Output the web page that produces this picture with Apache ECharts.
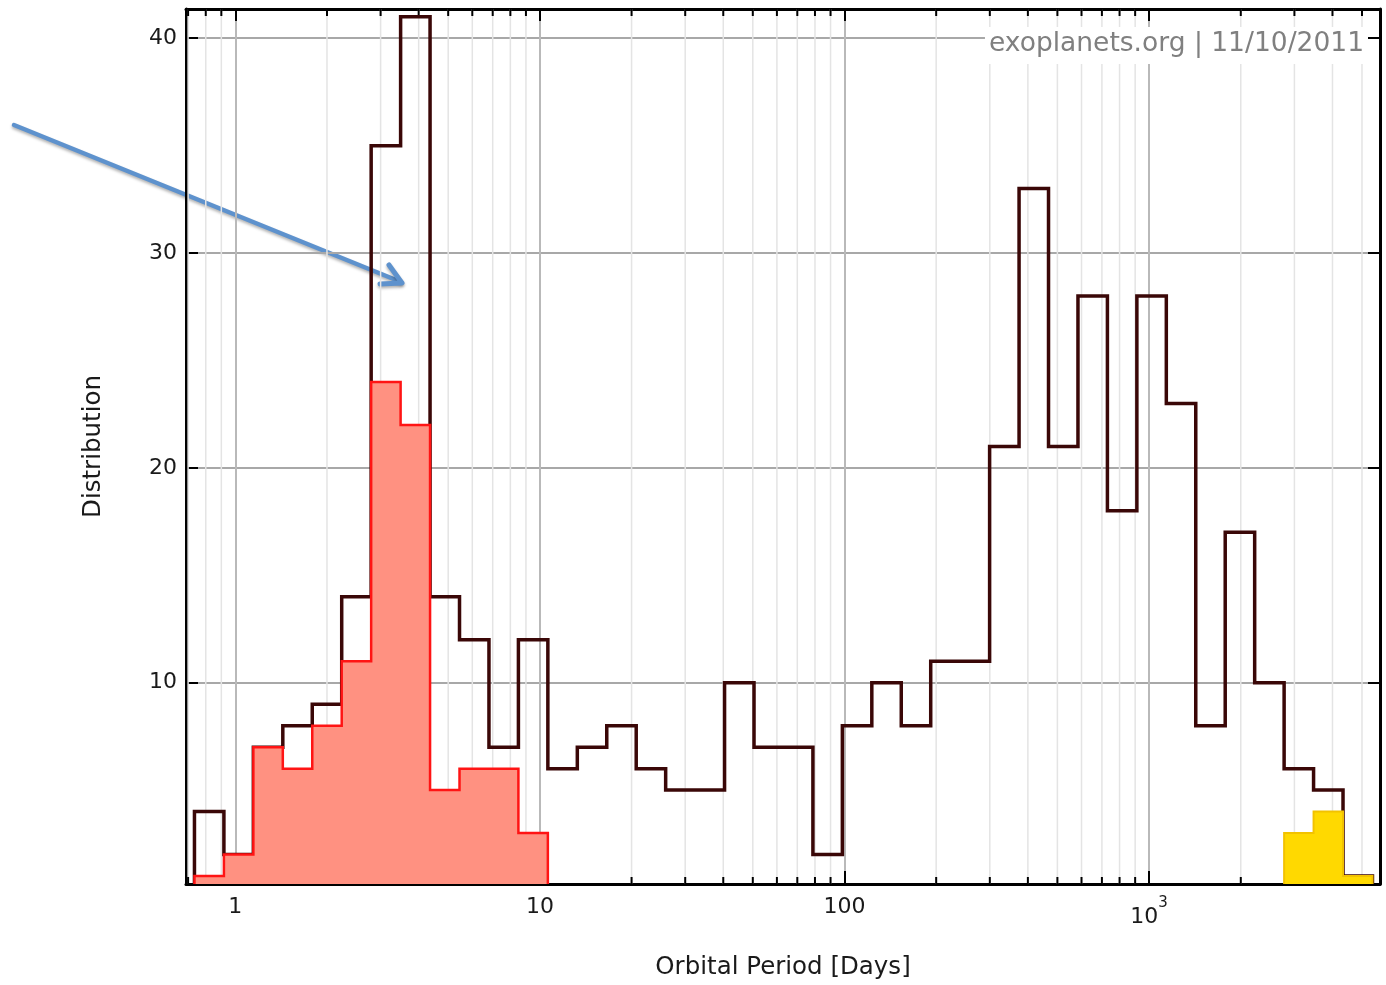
<!DOCTYPE html>
<html><head><meta charset="utf-8">
<script src="https://cdn.jsdelivr.net/npm/echarts@6/dist/echarts.min.js"></script>
<style>html,body{margin:0;padding:0;background:#fff}#chart{width:1386px;height:985px}</style>
</head><body><div id="chart"></div>
<script>
// ---- data ----
const binEdgeFirst = 0.7345;   // days, left edge of first bin
const binEdgeLast = 5412;      // days, right edge of last bin
const binCount = 40;
const allPlanetCounts = [4,2,7,8,9,14,35,41,14,12,7,12,6,7,8,6,5,5,10,7,7,2,8,10,8,11,11,21,33,21,28,18,28,23,8,17,10,6,5,1];
const redSubsetCounts = [1,2,7,6,8,11,24,22,5,6,6,3];
const redSubsetFirstBin = 0;
const yellowSubsetCounts = [3,4,1];
const yellowSubsetFirstBin = 37;
const xMajorTicks = [1,10,100,1000];
const xTickLabels = ['1','10','100','{b|10}{s|3}'];
const xMinorTicks = [0.7,0.8,0.9,2,3,4,5,6,7,8,9,20,30,40,50,60,70,80,90,200,300,400,500,600,700,800,900,2000,3000,4000,5000];
const yTicks = [10,20,30,40];
const xRange = [0.689, 5729];
const yRange = [0.63, 41.36];
const watermark = 'exoplanets.org | 11/10/2011';
const xTitle = 'Orbital Period [Days]';
const yTitle = 'Distribution';

const FONT = 'DejaVu Sans';
const lf = Math.log10(binEdgeFirst), ll = Math.log10(binEdgeLast);
const edges = Array.from({length: binCount + 1}, (_, i) => Math.pow(10, lf + (ll - lf) * i / binCount));

function stepPoints(counts, firstBin) {
  const pts = [[edges[firstBin], yRange[0]]];
  counts.forEach((c, i) => pts.push([edges[firstBin + i], c]));
  const lastEdge = edges[firstBin + counts.length];
  pts.push([lastEdge, counts[counts.length - 1]]);
  pts.push([lastEdge, yRange[0]]);
  return pts;
}

function xLabel(v) {
  const k = xMajorTicks.findIndex(t => Math.abs(Math.log10(v) - Math.log10(t)) < 1e-6);
  return k < 0 ? '' : xTickLabels[k];
}
function yLabel(v) {
  const k = yTicks.findIndex(t => Math.abs(v - t) < 1e-6);
  return k < 0 ? '' : String(yTicks[k]);
}

const chart = echarts.init(document.getElementById('chart'), null, {renderer: 'canvas'});
const labelStyle = {fontFamily: FONT, fontSize: 22, color: '#1a1a1a'};

const option = {
  backgroundColor: '#fff',
  animation: false,
  textStyle: {fontFamily: FONT},
  title: {
    text: watermark, right: 18, top: 27,
    backgroundColor: '#fff', padding: [4, 4, 6, 4],
    textStyle: {fontFamily: FONT, fontSize: 26.5, fontWeight: 'normal', color: '#808080'}
  },
  grid: {left: 186, right: 6, top: 9, bottom: 97, containLabel: false},
  xAxis: [
    {
      type: 'log', logBase: 10, min: xRange[0], max: xRange[1], position: 'bottom',
      axisLine: {show: true, lineStyle: {color: '#000', width: 3}},
      axisTick: {show: true, inside: true, length: 13, lineStyle: {color: '#000', width: 2}},
      axisLabel: {show: true, margin: 12, showMinLabel: false, showMaxLabel: false, formatter: xLabel,
        ...labelStyle,
        rich: {
          b: {fontFamily: FONT, fontSize: 22, color: '#1a1a1a', lineHeight: 32, verticalAlign: 'bottom'},
          s: {fontFamily: FONT, fontSize: 15, color: '#1a1a1a', lineHeight: 32, verticalAlign: 'top'}
        }},
      splitLine: {show: false},
      name: xTitle, nameLocation: 'middle', nameGap: 71,
      nameTextStyle: {fontFamily: FONT, fontSize: 24.5, color: '#1a1a1a'}
    },
    {
      type: 'log', logBase: 10, min: xRange[0], max: xRange[1], position: 'top',
      axisLine: {show: true, lineStyle: {color: '#000', width: 3}},
      axisTick: {show: true, inside: true, length: 12, lineStyle: {color: '#000', width: 2}},
      axisLabel: {show: false},
      splitLine: {show: true, lineStyle: {color: '#b9b9b9', width: 2}}
    }
  ],
  yAxis: [
    {
      type: 'value', min: yRange[0], max: yRange[1], position: 'left',
      axisLine: {show: true, lineStyle: {color: '#000', width: 3}},
      axisTick: {show: true, inside: true, length: 12, lineStyle: {color: '#000', width: 2}},
      axisLabel: {show: true, margin: 9, showMinLabel: false, showMaxLabel: false, formatter: yLabel, ...labelStyle},
      splitLine: {show: false},
      name: yTitle, nameLocation: 'middle', nameGap: 80, nameRotate: 90,
      nameTextStyle: {fontFamily: FONT, fontSize: 24.5, color: '#1a1a1a'}
    },
    {
      type: 'value', min: yRange[0], max: yRange[1], position: 'right',
      axisLine: {show: true, lineStyle: {color: '#000', width: 3}},
      axisTick: {show: true, inside: true, length: 12, lineStyle: {color: '#000', width: 2}},
      axisLabel: {show: false},
      splitLine: {show: true, lineStyle: {color: '#a8a8a8', width: 2}}
    }
  ],
  series: [
    {
      type: 'custom', name: 'minor', xAxisIndex: 0, yAxisIndex: 0, z: 1, silent: true,
      data: xMinorTicks.map(v => [v]),
      encode: {x: 0},
      renderItem: function (params, api) {
        const v = api.value(0);
        const b = api.coord([v, yRange[0]]);
        const t = api.coord([v, yRange[1]]);
        return {
          type: 'group',
          children: [
            {type: 'line', shape: {x1: b[0], y1: b[1], x2: t[0], y2: t[1]}, style: {stroke: '#e4e4e4', lineWidth: 1.5}},
            {type: 'line', shape: {x1: b[0], y1: b[1], x2: b[0], y2: b[1] - 7}, style: {stroke: '#000', lineWidth: 2}},
            {type: 'line', shape: {x1: t[0], y1: t[1], x2: t[0], y2: t[1] + 7}, style: {stroke: '#000', lineWidth: 2}}
          ]
        };
      }
    },
    {
      type: 'line', name: 'All planets', step: 'end', z: 2, showSymbol: false, symbol: 'none',
      data: stepPoints(allPlanetCounts, 0),
      lineStyle: {color: '#3a0707', width: 3.5, join: 'miter'}
    },
    {
      type: 'line', name: 'Red subset', step: 'end', z: 3, showSymbol: false, symbol: 'none',
      data: stepPoints(redSubsetCounts, redSubsetFirstBin),
      lineStyle: {color: '#ff1414', width: 2.5, join: 'miter'},
      areaStyle: {color: '#ff9181', opacity: 1}
    },
    {
      type: 'line', name: 'Yellow subset', step: 'end', z: 3, showSymbol: false, symbol: 'none',
      data: stepPoints(yellowSubsetCounts, yellowSubsetFirstBin),
      lineStyle: {color: '#f2c200', width: 2, join: 'miter'},
      areaStyle: {color: '#ffd900', opacity: 1}
    }
  ],
  graphic: [
    {
      type: 'group', z: 100,
      children: [
        {type: 'line', shape: {x1: 14, y1: 125, x2: 401, y2: 282},
          style: {stroke: '#5e92cd', lineWidth: 4.5, lineCap: 'round', shadowBlur: 3, shadowOffsetY: 2, shadowColor: 'rgba(0,0,0,0.3)'}},
        {type: 'polyline', shape: {points: [[389, 265], [402, 283], [380, 284]]},
          style: {stroke: '#5e92cd', fill: null, lineWidth: 5, lineCap: 'round', lineJoin: 'round', shadowBlur: 3, shadowOffsetY: 2, shadowColor: 'rgba(0,0,0,0.3)'}}
      ]
    }
  ]
};
chart.setOption(option);
</script>
</body></html>
